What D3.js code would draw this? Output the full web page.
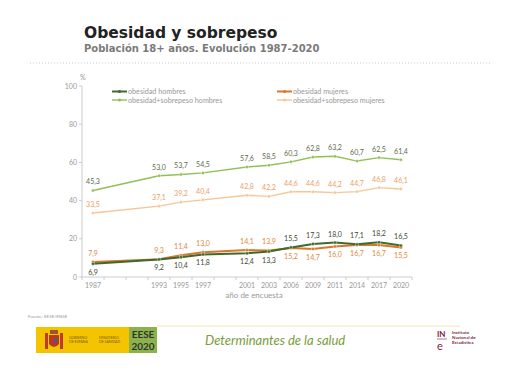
<!DOCTYPE html>
<html>
<head>
<meta charset="utf-8">
<script src="https://cdn.jsdelivr.net/npm/d3@7"></script>
<style>
  body { margin: 0; background: #fff; }
  text { font-family: "Lato", "Open Sans", sans-serif; }
</style>
</head>
<body>
<div id="main"></div>
<script>
const ctx = {
    w: 518,
    h: 375,
};

// data
const axisSlots = ["1987", "", "", "1993", "1995", "1997", "", "2001", "2003", "2006", "2009", "2011", "2014", "2017", "2020"];
const years = ["1987", "1993", "1995", "1997", "2001", "2003", "2006", "2009", "2011", "2014", "2017", "2020"];
const obHombres = [6.9, 9.2, 10.4, 11.8, 12.4, 13.3, 15.5, 17.3, 18.0, 17.1, 18.2, 16.5];
const obMujeres = [7.9, 9.3, 11.4, 13.0, 14.1, 13.9, 15.2, 14.7, 16.0, 16.7, 16.7, 15.5];
const obSobHombres = [45.3, 53.0, 53.7, 54.5, 57.6, 58.5, 60.3, 62.8, 63.2, 60.7, 62.5, 61.4];
const obSobMujeres = [33.5, 37.1, 39.2, 40.4, 42.8, 42.2, 44.6, 44.6, 44.2, 44.7, 46.8, 46.1];
const yTicks = [0, 20, 40, 60, 80, 100];

const series = [
    {name: "obesidad+sobrepeso mujeres", values: obSobMujeres, color: "#f7c597", lab: "#e9a067", width: 1.4, above: () => true},
    {name: "obesidad+sobrepeso hombres", values: obSobHombres, color: "#93bf55", lab: "#5d6a4c", width: 1.4, above: () => true},
    {name: "obesidad mujeres", values: obMujeres, color: "#d9772c", lab: "#e2873a", width: 2, above: i => i < 6},
    {name: "obesidad hombres", values: obHombres, color: "#3f6a2c", lab: "#3b4a33", width: 2, above: i => i >= 6},
];

const fmt = v => d3.format(".1f")(v).replace(".", ",");

function createViz() {
    let svg = d3.select("#main").append("svg")
        .attr("width", ctx.w)
        .attr("height", ctx.h);

    // header
    svg.append("text").attr("x", 84).attr("y", 38)
        .style("font-family", "DejaVu Sans").style("font-size", "15.5px")
        .style("font-weight", "bold").style("fill", "#222")
        .text("Obesidad y sobrepeso");
    svg.append("text").attr("x", 84).attr("y", 52)
        .style("font-family", "DejaVu Sans").style("font-size", "10px")
        .style("font-weight", "bold").style("fill", "#7a7a7a")
        .text("Población 18+ años. Evolución 1987-2020");
    svg.append("line").attr("x1", 30).attr("x2", 490).attr("y1", 63).attr("y2", 63)
        .style("stroke", "#ccc").style("stroke-dasharray", "1,2");

    drawChart(svg);
    drawFooter(svg);
}

function drawChart(svg) {
    const x = d3.scaleBand()
        .domain(d3.range(axisSlots.length))
        .range([82, 412]);
    const y = d3.scaleLinear().domain([0, 100]).range([277, 86]);
    const xPos = i => x(axisSlots.indexOf(years[i])) + x.bandwidth() / 2;

    // y axis
    svg.append("line").attr("x1", 82).attr("x2", 82).attr("y1", y(100)).attr("y2", y(0))
        .style("stroke", "#ccc");
    svg.selectAll(".ytick").data(yTicks).enter().append("text")
        .attr("x", 77).attr("y", d => y(d) + 2.5)
        .attr("text-anchor", "end")
        .style("font-size", "7px").style("fill", "#999")
        .text(d => d);
    svg.selectAll(".ytickm").data(yTicks).enter().append("line")
        .attr("x1", 79).attr("x2", 82).attr("y1", d => y(d)).attr("y2", d => y(d))
        .style("stroke", "#ccc");
    svg.append("text").attr("x", 80).attr("y", 80)
        .style("font-size", "7px").style("fill", "#999").text("%");

    // x axis
    svg.append("line").attr("x1", 82).attr("x2", 412).attr("y1", y(0)).attr("y2", y(0))
        .style("stroke", "#ccc");
    svg.selectAll(".xtickm").data(d3.range(axisSlots.length + 1)).enter().append("line")
        .attr("x1", d => 82 + d * x.step()).attr("x2", d => 82 + d * x.step())
        .attr("y1", y(0)).attr("y2", y(0) + 3)
        .style("stroke", "#ccc");
    svg.selectAll(".xtick").data(axisSlots).enter().append("text")
        .attr("x", (d, i) => x(i) + x.bandwidth() / 2).attr("y", y(0) + 11)
        .attr("text-anchor", "middle")
        .style("font-size", "7px").style("fill", "#999")
        .text(d => d);
    svg.append("text").attr("x", 254).attr("y", 298).attr("text-anchor", "middle")
        .style("font-size", "8px").style("fill", "#999").text("año de encuesta");

    const line = d3.line().x((d, i) => xPos(i)).y(d => y(d));

    series.forEach(s => {
        svg.append("path").datum(s.values)
            .attr("d", line)
            .style("fill", "none").style("stroke", s.color).style("stroke-width", s.width);
        svg.selectAll(null).data(s.values).enter().append("circle")
            .attr("cx", (d, i) => xPos(i)).attr("cy", d => y(d)).attr("r", 1.6)
            .style("fill", s.color).style("stroke", "#fff").style("stroke-width", 0.4);
        svg.selectAll(null).data(s.values).enter().append("text")
            .attr("x", (d, i) => xPos(i))
            .attr("y", (d, i) => y(d) + (s.above(i) ? -6 : 11))
            .attr("text-anchor", "middle")
            .style("font-size", "7px").style("fill", s.lab)
            .text(d => fmt(d));
    });

    // legend
    const legend = [
        {s: series[3], x: 112, y: 91.5},
        {s: series[1], x: 112, y: 100},
        {s: series[2], x: 277, y: 91.5},
        {s: series[0], x: 277, y: 100},
    ];
    legend.forEach(l => {
        svg.append("line").attr("x1", l.x).attr("x2", l.x + 15).attr("y1", l.y).attr("y2", l.y)
            .style("stroke", l.s.color).style("stroke-width", l.s.width);
        svg.append("circle").attr("cx", l.x + 7.5).attr("cy", l.y).attr("r", 1.6)
            .style("fill", l.s.color);
        svg.append("text").attr("x", l.x + 16).attr("y", l.y + 2.5)
            .style("font-size", "7.2px").style("fill", "#999").text(l.s.name);
    });
}

function drawFooter(svg) {
    svg.append("text").attr("x", 28).attr("y", 318)
        .style("font-size", "4.5px").style("fill", "#999").text("Fuente: EESE/ENSE");
    svg.append("line").attr("x1", 157).attr("x2", 460).attr("y1", 326).attr("y2", 326)
        .style("stroke", "#f0e6b8").style("stroke-width", 1);

    svg.append("rect").attr("x", 36).attr("y", 327).attr("width", 93).attr("height", 26)
        .style("fill", "#f4c400");
    svg.append("rect").attr("x", 129).attr("y", 327).attr("width", 28).attr("height", 26)
        .style("fill", "#8ab34b");
    svg.append("text").attr("x", 143).attr("y", 338).attr("text-anchor", "middle")
        .style("font-size", "10px").style("font-weight", "bold").style("fill", "#333").text("EESE");
    svg.append("text").attr("x", 143).attr("y", 350).attr("text-anchor", "middle")
        .style("font-size", "10px").style("font-weight", "bold").style("fill", "#333").text("2020");

    // coat of arms (simplified)
    const arms = svg.append("g").attr("transform", "translate(45,330)");
    arms.append("rect").attr("x", 0).attr("y", 3).attr("width", 3).attr("height", 16).style("fill", "#c0392b");
    arms.append("rect").attr("x", 15).attr("y", 3).attr("width", 3).attr("height", 16).style("fill", "#c0392b");
    arms.append("path").attr("d", "M4,5 h10 v9 q-5,6 -10,0 z").style("fill", "#b33a2a");
    arms.append("rect").attr("x", 5).attr("y", 0).attr("width", 8).attr("height", 4).style("fill", "#a0522d");
    arms.append("rect").attr("x", 9).attr("y", 9).attr("width", 3).attr("height", 3).style("fill", "#3a5fa0");

    svg.append("text").attr("x", 69).attr("y", 339)
        .style("font-size", "3.5px").style("fill", "#7a5a10").text("GOBIERNO");
    svg.append("text").attr("x", 69).attr("y", 343)
        .style("font-size", "3.5px").style("fill", "#7a5a10").text("DE ESPAÑA");
    svg.append("text").attr("x", 99).attr("y", 339)
        .style("font-size", "3.5px").style("fill", "#7a5a10").text("MINISTERIO");
    svg.append("text").attr("x", 99).attr("y", 343)
        .style("font-size", "3.5px").style("fill", "#7a5a10").text("DE SANIDAD");

    svg.append("text").attr("x", 205).attr("y", 345)
        .style("font-size", "13px").style("font-style", "italic").style("fill", "#7a9c3c")
        .text("Determinantes de la salud");

    // INE logo
    svg.append("text").attr("x", 437).attr("y", 337)
        .style("font-size", "8px").style("font-weight", "bold").style("fill", "#7a1f3d").text("IN");
    svg.append("line").attr("x1", 437).attr("x2", 447).attr("y1", 339).attr("y2", 339)
        .style("stroke", "#7a1f3d").style("stroke-width", 0.6);
    svg.append("text").attr("x", 437).attr("y", 350)
        .style("font-size", "11px").style("fill", "#7a1f3d").text("e");
    ["Instituto", "Nacional de", "Estadística"].forEach((t, i) => {
        svg.append("text").attr("x", 452).attr("y", 334 + i * 5)
            .style("font-size", "4.5px").style("font-weight", "bold").style("fill", "#7a1f3d").text(t);
    });
}

createViz();
</script>
</body>
</html>
